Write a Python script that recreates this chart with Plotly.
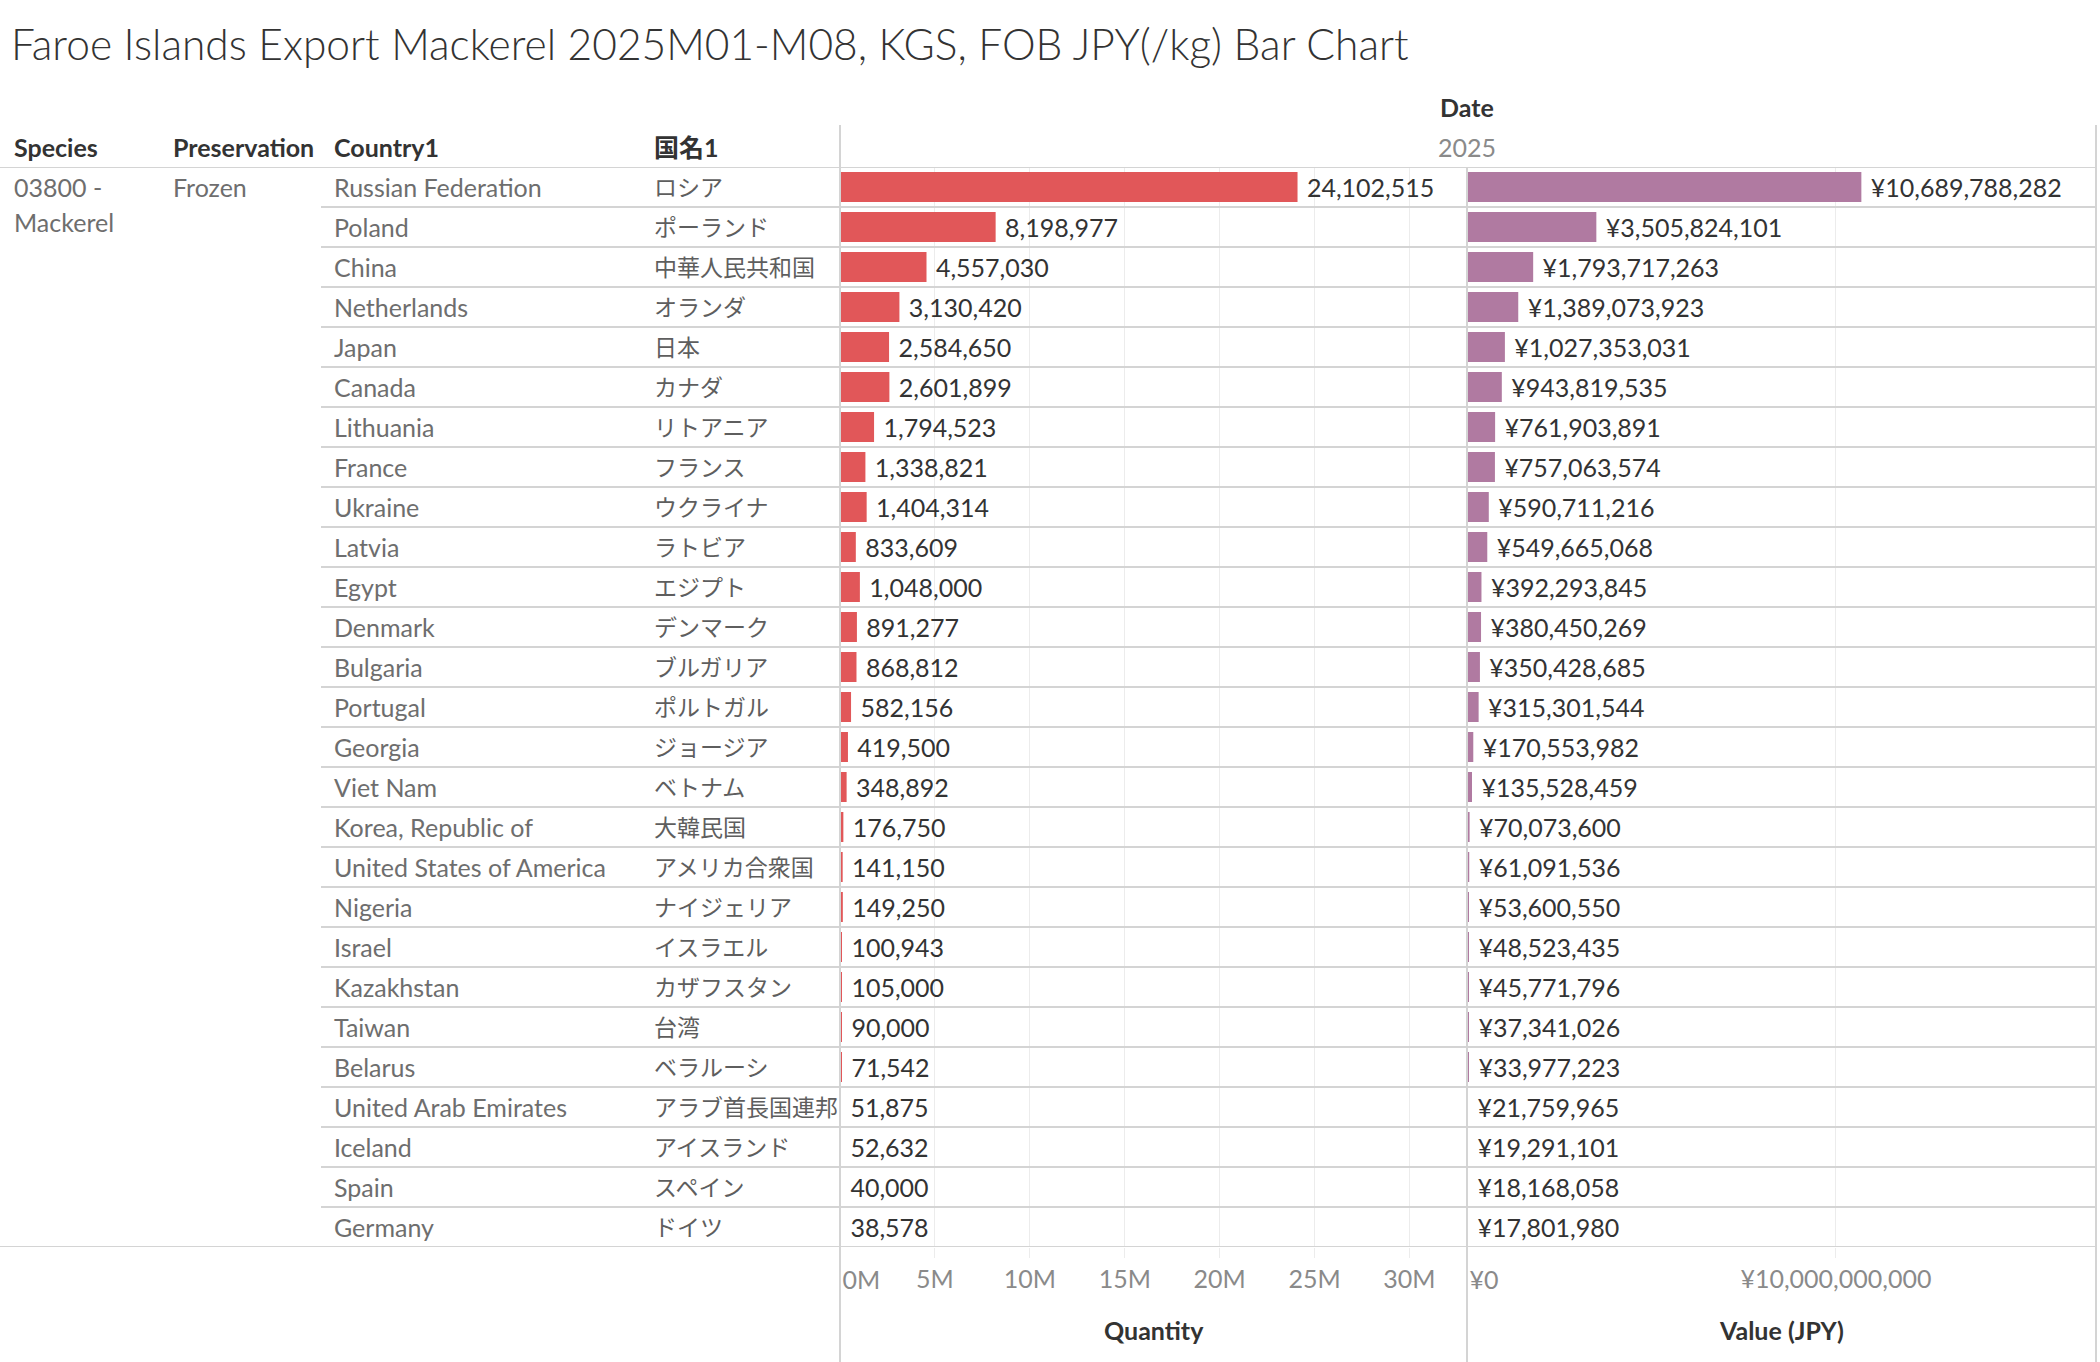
import plotly.graph_objects as go

W, H = 2100, 1362

title_text = "Faroe Islands Export Mackerel 2025M01-M08, KGS, FOB JPY(/kg) Bar Chart"
species_lines = ["03800 -", "Mackerel"]
preservation = "Frozen"
year_label = "2025"

countries = ["Russian Federation", "Poland", "China", "Netherlands", "Japan", "Canada",
             "Lithuania", "France", "Ukraine", "Latvia", "Egypt", "Denmark", "Bulgaria",
             "Portugal", "Georgia", "Viet Nam", "Korea, Republic of", "United States of America",
             "Nigeria", "Israel", "Kazakhstan", "Taiwan", "Belarus", "United Arab Emirates",
             "Iceland", "Spain", "Germany"]
names_ja = ["ロシア", "ポーランド", "中華人民共和国", "オランダ", "日本", "カナダ",
            "リトアニア", "フランス", "ウクライナ", "ラトビア", "エジプト", "デンマーク", "ブルガリア",
            "ポルトガル", "ジョージア", "ベトナム", "大韓民国", "アメリカ合衆国",
            "ナイジェリア", "イスラエル", "カザフスタン", "台湾", "ベラルーシ", "アラブ首長国連邦",
            "アイスランド", "スペイン", "ドイツ"]
quantity = [24102515, 8198977, 4557030, 3130420, 2584650, 2601899, 1794523, 1338821,
            1404314, 833609, 1048000, 891277, 868812, 582156, 419500, 348892, 176750,
            141150, 149250, 100943, 105000, 90000, 71542, 51875, 52632, 40000, 38578]
value_jpy = [10689788282, 3505824101, 1793717263, 1389073923, 1027353031, 943819535,
             761903891, 757063574, 590711216, 549665068, 392293845, 380450269, 350428685,
             315301544, 170553982, 135528459, 70073600, 61091536, 53600550, 48523435,
             45771796, 37341026, 33977223, 21759965, 19291101, 18168058, 17801980]

qty_ticks = [0, 5e6, 10e6, 15e6, 20e6, 25e6, 30e6]
qty_tick_text = ["0M", "5M", "10M", "15M", "20M", "25M", "30M"]
val_ticks = [0, 1e10]
val_tick_text = ["¥0", "¥10,000,000,000"]

FONT = "Lato, 'Noto Sans CJK JP', sans-serif"
GRID = "#ececec"
LINE = "#d4d4d4"
FS = 25


def px(x):
    return x / W


def py(y):
    return 1 - y / H


# pixel positions of the sheet
x_bar0, x_bar1, x_bar2 = 840, 1467, 2096
y_rows_top, y_rows_bot = 167, 1247
n = len(countries)
qty_range = [0, 33.03e6]
val_range = [0, 17.05e9]

fig = go.Figure()
fig.add_trace(go.Bar(y=countries, x=quantity, orientation="h", xaxis="x", yaxis="y",
                     marker=dict(color="#E15759", line=dict(width=0)),
                     texttemplate="\u00a0%{x:,.0f}", textposition="outside",
                     textfont=dict(family=FONT, size=FS, color="#333333"),
                     constraintext="none", cliponaxis=False, hoverinfo="skip"))
fig.add_trace(go.Bar(y=countries, x=value_jpy, orientation="h", xaxis="x2", yaxis="y",
                     marker=dict(color="#B07AA1", line=dict(width=0)),
                     texttemplate="\u00a0¥%{x:,.0f}", textposition="outside",
                     textfont=dict(family=FONT, size=FS, color="#333333"),
                     constraintext="none", cliponaxis=False, hoverinfo="skip"))
# empty traces so the overlay axes (zero labels) get drawn
for xa in ("x3", "x4"):
    fig.add_trace(go.Scatter(x=[], y=[], xaxis=xa, yaxis="y", mode="markers",
                             hoverinfo="skip", showlegend=False))

tickfont = dict(family=FONT, size=FS, color="#8a8a8a")
common_x = dict(showline=False, zeroline=False, showgrid=True, gridcolor=GRID, gridwidth=1,
                ticks="outside", ticklen=10, tickcolor=GRID, tickfont=tickfont,
                fixedrange=True, anchor="y")
zero_x = dict(showgrid=False, zeroline=False, showline=False, ticks="outside", ticklen=10,
              tickcolor="rgba(0,0,0,0)", tickfont=tickfont, ticklabelstandoff=11,
              ticklabelshift=2, ticklabelposition="outside right", fixedrange=True,
              anchor="y")

fig.update_layout(
    width=W, height=H,
    margin=dict(l=0, r=0, t=0, b=0),
    paper_bgcolor="white", plot_bgcolor="white",
    showlegend=False, bargap=0.25,
    font=dict(family=FONT, color="#333333"),
    xaxis=dict(domain=[px(x_bar0), px(x_bar1)], range=qty_range,
               tickvals=qty_ticks[1:], ticktext=qty_tick_text[1:], **common_x),
    xaxis2=dict(domain=[px(x_bar1), px(x_bar2)], range=val_range,
                tickvals=val_ticks[1:], ticktext=val_tick_text[1:], **common_x),
    xaxis3=dict(overlaying="x", range=qty_range, tickvals=qty_ticks[:1],
                ticktext=qty_tick_text[:1], **zero_x),
    xaxis4=dict(overlaying="x2", range=val_range, tickvals=val_ticks[:1],
                ticktext=val_tick_text[:1], **zero_x),
    yaxis=dict(domain=[py(y_rows_bot), py(y_rows_top)], type="category",
               categoryorder="array", categoryarray=countries,
               range=[n - 0.5, -0.5], showticklabels=False, showgrid=False,
               zeroline=False, showline=False, ticks="", fixedrange=True),
)

shapes = []
# row separators
for i in range(1, n):
    shapes.append(dict(type="line", xref="paper", yref="y", x0=px(321), x1=px(x_bar2),
                       y0=i - 0.5, y1=i - 0.5, line=dict(color=LINE, width=2)))
for yy in (-0.5, n - 0.5):
    shapes.append(dict(type="line", xref="paper", yref="y", x0=0, x1=px(x_bar2),
                       y0=yy, y1=yy, line=dict(color=LINE, width=2)))
# vertical panel lines
for xx, ytop in ((x_bar0, 125), (x_bar1, y_rows_top), (x_bar2, 125)):
    shapes.append(dict(type="line", xref="paper", yref="paper", x0=px(xx), x1=px(xx),
                       y0=py(ytop), y1=0, line=dict(color=LINE, width=2)))
fig.update_layout(shapes=shapes)

ann = []
ann.append(dict(text=title_text, x=px(9), y=py(43), xanchor="left", yanchor="middle",
                font=dict(family=FONT, size=42.5, color="#333333", weight=300)))
hdr_font = dict(family=FONT, size=FS, color="#333333", weight="bold")
for label, xx in (("Species", 12), ("Preservation", 171), ("Country1", 332), ("国名1", 652)):
    ann.append(dict(text=label, x=px(xx), y=py(147), xanchor="left", yanchor="middle",
                    font=hdr_font))
ann.append(dict(text="Date", x=px(x_bar1), y=py(107), xanchor="center", yanchor="middle",
                font=hdr_font))
ann.append(dict(text=year_label, x=px(x_bar1), y=py(147), xanchor="center", yanchor="middle",
                font=dict(family=FONT, size=FS, color="#8a8a8a")))

cell_font = dict(family=FONT, size=FS, color="#6e6e6e")
for k, line in enumerate(species_lines):
    ann.append(dict(text=line, x=px(12), y=py(187 + 35 * k), xanchor="left",
                    yanchor="middle", font=cell_font))
ann.append(dict(text=preservation, x=px(171), y=py(187), xanchor="left", yanchor="middle",
                font=cell_font))
for c, j in zip(countries, names_ja):
    ann.append(dict(text=c, xref="paper", yref="y", x=px(332), y=c, xanchor="left",
                    yanchor="middle", font=cell_font))
    ann.append(dict(text=j, xref="paper", yref="y", x=px(652), y=c, xanchor="left",
                    yanchor="middle", font=dict(family=FONT, size=23, color="#5e5e5e")))

ann.append(dict(text="Quantity", xref="x domain", x=0.5, y=py(1330), xanchor="center",
                yanchor="middle", font=hdr_font))
ann.append(dict(text="Value (JPY)", xref="x2 domain", x=0.5, y=py(1330), xanchor="center",
                yanchor="middle", font=hdr_font))
for a in ann:
    a.setdefault("xref", "paper")
    a.setdefault("yref", "paper")
    a["showarrow"] = False
fig.update_layout(annotations=ann)

fig.write_html("out.html", config={"displayModeBar": False},
               post_script="document.body.style.margin='0';")
